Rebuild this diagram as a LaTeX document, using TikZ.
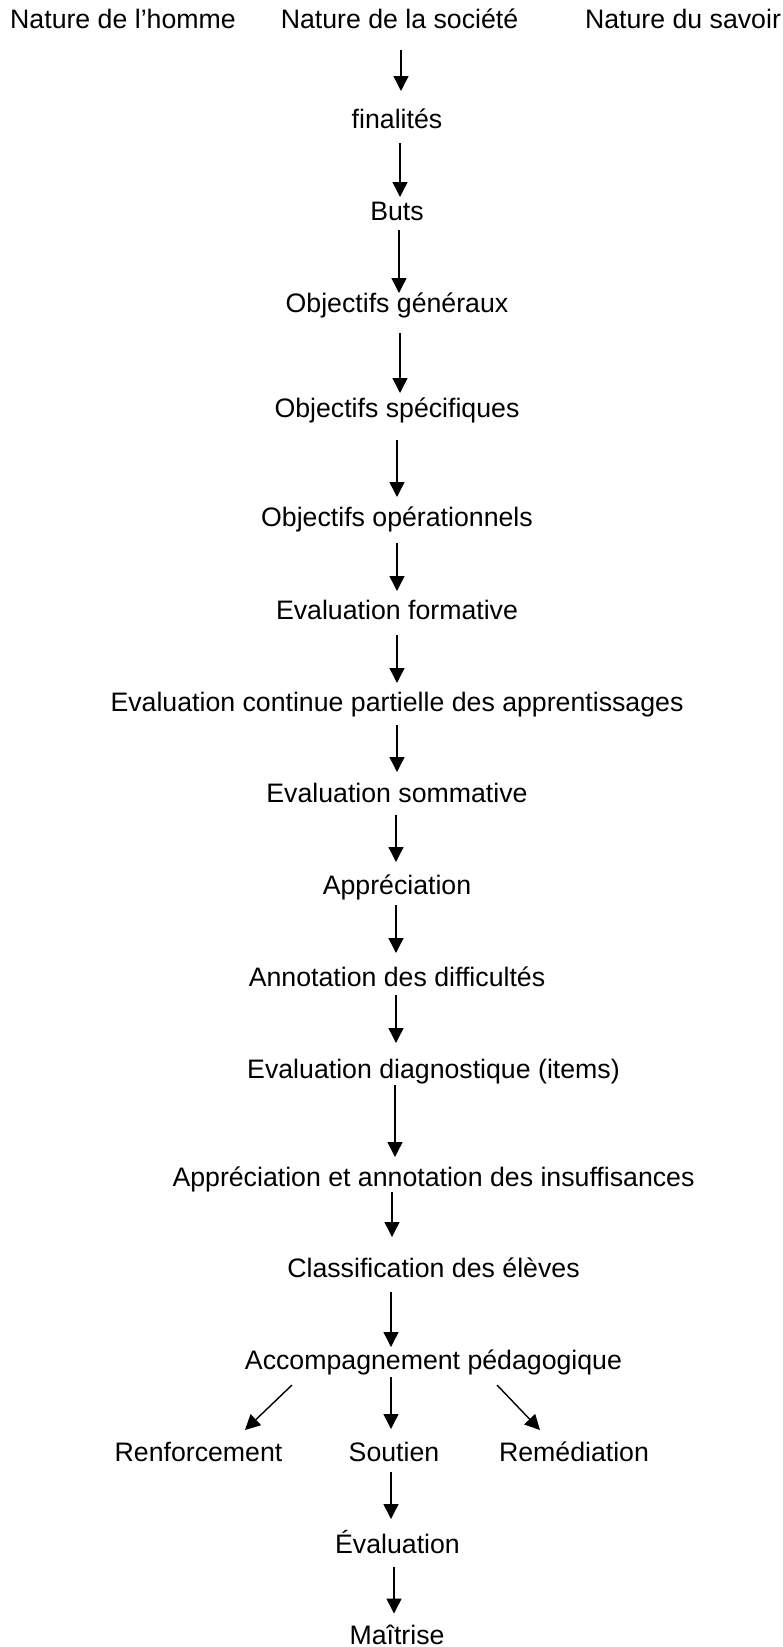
\documentclass[tikz,border=0pt]{standalone}
\usepackage{fontspec}
\setmainfont{Liberation Sans}
\usetikzlibrary{arrows.meta}
\tikzset{
  lbl/.style={anchor=base, inner sep=0pt, font=\fontsize{26.7}{32}\selectfont},
  arr/.style={line width=1.4pt, -{Triangle[width=15pt,length=15pt]}}
}
\begin{document}
\begin{tikzpicture}[x=1pt,y=-1pt]
\useasboundingbox (0,0) rectangle (782,1647);
\node[lbl] (homme) at (123,28) {Nature de l’homme};
\node[lbl] (soc) at (399.5,28) {Nature de la société};
\node[lbl] (savoir) at (683,28) {Nature du savoir};
\node[lbl] (fin) at (397,128) {finalités};
\node[lbl] (buts) at (397,220) {Buts};
\node[lbl] (og) at (397,312) {Objectifs généraux};
\node[lbl] (os) at (397,417) {Objectifs spécifiques};
\node[lbl] (oo) at (397,526) {Objectifs opérationnels};
\node[lbl] (ef) at (397,619) {Evaluation formative};
\node[lbl] (ec) at (397,711) {Evaluation continue partielle des apprentissages};
\node[lbl] (es) at (397,802) {Evaluation sommative};
\node[lbl] (app) at (397,894) {Appréciation};
\node[lbl] (ann) at (397,986) {Annotation des difficultés};
\node[lbl] (diag) at (433.5,1078) {Evaluation diagnostique (items)};
\node[lbl] (ai) at (433.5,1186) {Appréciation et annotation des insuffisances};
\node[lbl] (cl) at (433.5,1277) {Classification des élèves};
\node[lbl] (acc) at (433.5,1369) {Accompagnement pédagogique};
\node[lbl] (renf) at (198.5,1461) {Renforcement};
\node[lbl] (sou) at (394,1461) {Soutien};
\node[lbl] (rem) at (574,1461) {Remédiation};
\node[lbl] (eval) at (397.5,1553) {Évaluation};
\node[lbl] (mai) at (397,1644.5) {Maîtrise};

\draw[arr] ([xshift=1.5pt,yshift=-22pt]soc.base) -- ([xshift=4pt,yshift=37pt]fin.base);
\draw[arr] ([xshift=3pt,yshift=-15pt]fin.base) -- ([xshift=3pt,yshift=23pt]buts.base);
\draw[arr] ([xshift=2pt,yshift=-10pt]buts.base) -- ([xshift=2pt,yshift=19pt]og.base);
\draw[arr] ([xshift=3pt,yshift=-21pt]og.base) -- ([xshift=3pt,yshift=24pt]os.base);
\draw[arr] ([yshift=-23pt]os.base) -- ([yshift=29pt]oo.base);
\draw[arr] ([yshift=-17pt]oo.base) -- ([yshift=28pt]ef.base);
\draw[arr] ([yshift=-16pt]ef.base) -- ([yshift=28pt]ec.base);
\draw[arr] ([yshift=-14pt]ec.base) -- ([yshift=30pt]es.base);
\draw[arr] ([xshift=-1pt,yshift=-13pt]es.base) -- ([xshift=-1pt,yshift=32pt]app.base);
\draw[arr] ([xshift=-1pt,yshift=-11pt]app.base) -- ([xshift=-1pt,yshift=33pt]ann.base);
\draw[arr] ([xshift=-1pt,yshift=-9pt]ann.base) -- ([xshift=-37.5pt,yshift=35pt]diag.base);
\draw[arr] ([xshift=-38.5pt,yshift=-7pt]diag.base) -- ([xshift=-38.5pt,yshift=29pt]ai.base);
\draw[arr] ([xshift=-41.5pt,yshift=-6pt]ai.base) -- ([xshift=-41.5pt,yshift=40pt]cl.base);
\draw[arr] ([xshift=-42.5pt,yshift=-15pt]cl.base) -- ([xshift=-42.5pt,yshift=22pt]acc.base);
\draw[arr] ([xshift=-42.5pt,yshift=-8pt]acc.base) -- ([xshift=-3pt,yshift=32pt]sou.base);
\draw[arr] ([xshift=-141.5pt,yshift=-16pt]acc.base) -- ([xshift=46.5pt,yshift=31pt]renf.base);
\draw[arr] ([xshift=63.5pt,yshift=-16pt]acc.base) -- ([xshift=-34pt,yshift=31pt]rem.base);
\draw[arr] ([xshift=-3pt,yshift=-11pt]sou.base) -- ([xshift=-6.5pt,yshift=34pt]eval.base);
\draw[arr] ([xshift=-3.5pt,yshift=-14pt]eval.base) -- ([xshift=-3pt,yshift=31pt]mai.base);
\end{tikzpicture}
\end{document}
